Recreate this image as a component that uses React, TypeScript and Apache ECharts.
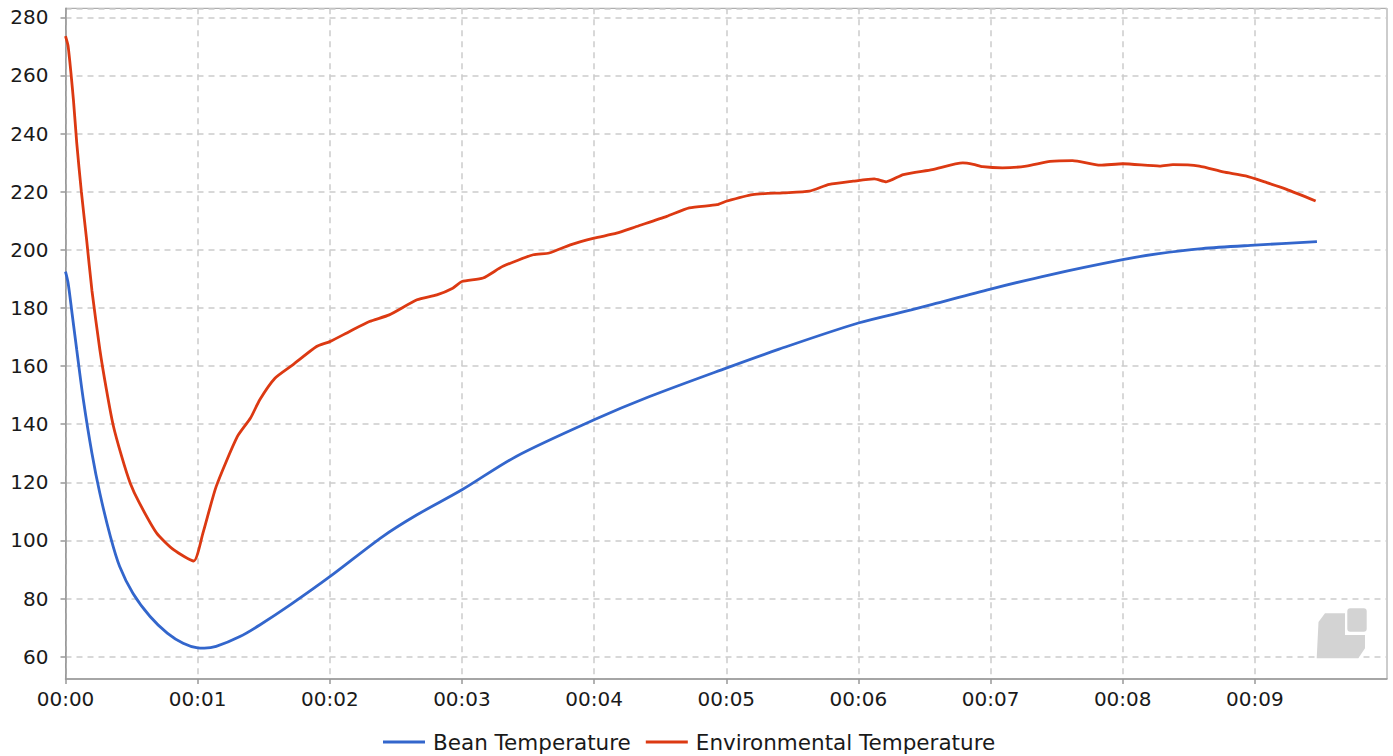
import React, { useEffect, useRef } from "react";
import * as echarts from "echarts";

// Bean temperature (time in minutes, value in degrees)
const beanTime = [0, 0.02, 0.05, 0.085, 0.135, 0.2, 0.26, 0.34, 0.41, 0.51, 0.64, 0.77, 0.89, 1.0, 1.05, 1.14, 1.32, 1.47, 1.7, 2.0, 2.4, 2.66, 3.0, 3.41, 4.0, 4.42, 5.0, 5.4, 6.0, 6.4, 6.56, 7.0, 7.45, 8.0, 8.26, 8.6, 9.0, 9.47];
const beanTemp = [192.5, 188.5, 178, 165.6, 148.4, 130, 116.2, 101.3, 91, 81.8, 73.8, 68.1, 64.6, 63.0, 62.9, 63.5, 66.9, 70.9, 77.8, 87.5, 101.3, 108.8, 117.4, 128.9, 141.5, 149.5, 159.3, 165.8, 174.8, 179.3, 181.2, 186.5, 191.4, 196.6, 198.6, 200.4, 201.6, 202.8];

// Environmental temperature
const envTime = [0, 0.02, 0.06, 0.085, 0.12, 0.16, 0.2, 0.26, 0.31, 0.36, 0.425, 0.49, 0.56, 0.69, 0.82, 0.97, 1.04, 1.14, 1.3, 1.4, 1.47, 1.585, 1.72, 1.9, 2.0, 2.15, 2.3, 2.45, 2.66, 2.81, 2.93, 3.0, 3.16, 3.31, 3.54, 3.66, 3.82, 4.0, 4.17, 4.32, 4.55, 4.72, 4.93, 5.0, 5.2, 5.43, 5.63, 5.78, 5.96, 6.12, 6.21, 6.34, 6.56, 6.79, 6.87, 6.94, 7.09, 7.27, 7.45, 7.62, 7.83, 8.0, 8.28, 8.38, 8.58, 8.76, 8.93, 9.09, 9.24, 9.46];
const envTemp = [273.5, 270, 251.6, 236.8, 220, 203.4, 186, 165.6, 151.8, 139.8, 128.9, 119.7, 112.8, 102.5, 96.7, 92.9, 102.5, 118.5, 135.7, 142.1, 148.4, 155.8, 160.4, 166.7, 168.4, 171.9, 175.3, 177.6, 182.8, 184.5, 186.8, 189.1, 190.3, 194.3, 198.3, 198.9, 201.7, 204.0, 205.7, 208.0, 211.5, 214.4, 215.5, 216.7, 219.0, 219.6, 220.2, 222.5, 223.6, 224.4, 223.4, 225.9, 227.6, 229.9, 229.4, 228.6, 228.2, 228.8, 230.4, 230.7, 229.1, 229.6, 228.8, 229.3, 228.8, 226.8, 225.4, 223.1, 220.8, 216.8];

const seriesNames = ["Bean Temperature", "Environmental Temperature"];
const seriesColors = ["#3366cc", "#dc3912"];
const xTickMinutes = [0, 1, 2, 3, 4, 5, 6, 7, 8, 9];

const FONT = "DejaVu Sans";

export default function App() {
  const ref = useRef<HTMLDivElement>(null);
  useEffect(() => {
    if (!ref.current) return;
    const chart = echarts.init(ref.current, undefined, { renderer: "svg" });
    const beanData = beanTime.map((t, i) => [t, beanTemp[i]]);
    const envData = envTime.map((t, i) => [t, envTemp[i]]);
    chart.setOption({
      animation: false,
      textStyle: { fontFamily: FONT },
      grid: {
        left: 65.5,
        right: 6,
        top: 8.3,
        bottom: 77,
        show: true,
        borderColor: "#9a9a9a",
        borderWidth: 1,
        backgroundColor: "transparent",
      },
      legend: {
        left: 378,
        top: 724,
        itemWidth: 42,
        itemHeight: 3,
        itemGap: 15,
        icon: "rect",
        textStyle: { fontSize: 21.5, lineHeight: 26, color: "#1a1a1a", fontFamily: FONT, padding: [0, 0, 0, 3] },
        data: seriesNames,
      },
      xAxis: {
        type: "value",
        min: 0,
        max: 10,
        interval: 1,
        axisLine: { show: true, lineStyle: { color: "#999", width: 1.5 } },
        axisTick: { show: true, length: 5, lineStyle: { color: "#999", width: 1.5 } },
        axisLabel: {
          fontSize: 20,
          color: "#1a1a1a",
          fontFamily: FONT,
          margin: 10,
          showMaxLabel: false,
          formatter: (v: number) => (xTickMinutes.includes(v) ? "00:0" + v : ""),
        },
        splitLine: { show: true, lineStyle: { color: "#cccccc", type: [6, 5], width: 1.5 } },
      },
      yAxis: {
        type: "value",
        min: 52.3,
        max: 283.1,
        splitNumber: 12,
        axisLine: { show: true, lineStyle: { color: "#999", width: 1.5 } },
        axisTick: { show: true, length: 5, lineStyle: { color: "#999", width: 1.5 } },
        axisLabel: {
          fontSize: 20,
          color: "#1a1a1a",
          fontFamily: FONT,
          margin: 17,
          showMinLabel: false,
          showMaxLabel: false,
        },
        splitLine: { show: true, lineStyle: { color: "#cccccc", type: [6, 5], width: 1.5 } },
      },
      graphic: [
        {
          type: "polygon",
          z: 1,
          shape: {
            points: [
              [1316.7, 658.3],
              [1318.5, 622],
              [1325, 613.3],
              [1345, 613.3],
              [1345, 635],
              [1365, 635],
              [1365, 648.3],
              [1358.3, 658.3],
            ],
          },
          style: { fill: "#d3d3d3" },
        },
        {
          type: "rect",
          z: 1,
          shape: { x: 1347.3, y: 608.3, width: 19.4, height: 23.4, r: 3 },
          style: { fill: "#d3d3d3" },
        },
      ],
      series: [
        {
          name: seriesNames[0],
          type: "line",
          data: beanData,
          showSymbol: false,
          smooth: 0.3,
          color: seriesColors[0],
          lineStyle: { width: 2.8, color: seriesColors[0] },
          z: 3,
        },
        {
          name: seriesNames[1],
          type: "line",
          data: envData,
          showSymbol: false,
          smooth: 0.2,
          color: seriesColors[1],
          lineStyle: { width: 2.8, color: seriesColors[1] },
          z: 3,
        },
      ],
    });
    return () => chart.dispose();
  }, []);
  return (
    <div
      ref={ref}
      style={{ position: "fixed", left: 0, top: 0, width: 1393, height: 756, background: "#fff" }}
    />
  );
}
